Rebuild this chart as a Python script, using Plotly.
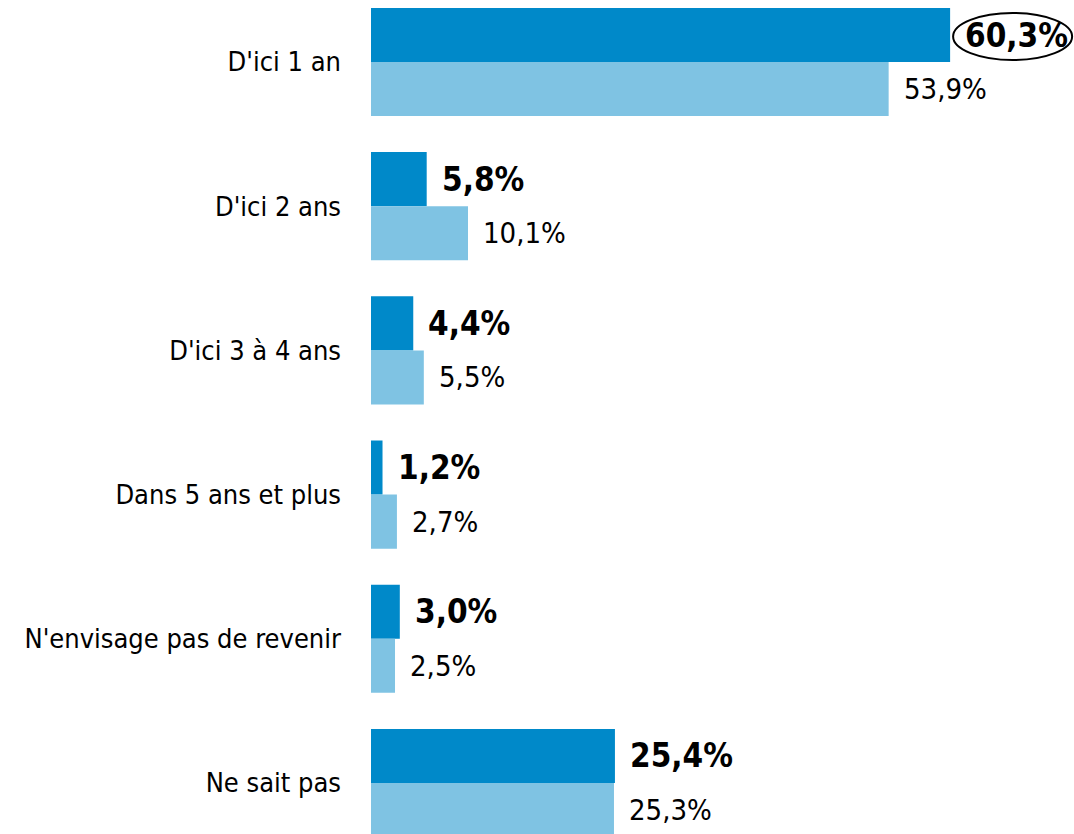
import plotly.graph_objects as go

# categories, top to bottom
categories = ["D'ici 1 an", "D'ici 2 ans", "D'ici 3 à 4 ans", "Dans 5 ans et plus",
              "N'envisage pas de revenir", "Ne sait pas"]
serie_fonce = [60.3, 5.8, 4.4, 1.2, 3.0, 25.4]
serie_clair = [53.9, 10.1, 5.5, 2.7, 2.5, 25.3]
labels_fonce = ["60,3%", "5,8%", "4,4%", "1,2%", "3,0%", "25,4%"]
labels_clair = ["53,9%", "10,1%", "5,5%", "2,7%", "2,5%", "25,3%"]

FONT = "Liberation Sans Narrow, DejaVu Sans Condensed, Roboto, sans-serif"
c_fonce = "#0089C9"
c_clair = "#7FC3E3"

fig = go.Figure()
fig.add_trace(go.Bar(y=categories, x=serie_fonce, orientation="h",
                     marker=dict(color=c_fonce, line=dict(width=0)), name="fonce"))
fig.add_trace(go.Bar(y=categories, x=serie_clair, orientation="h",
                     marker=dict(color=c_clair, line=dict(width=0)), name="clair"))

# étiquettes de valeurs
for cat, v, t in zip(categories, serie_fonce, labels_fonce):
    fig.add_annotation(x=v, y=cat, text="<b>" + t + "</b>", showarrow=False,
                       xanchor="left", yanchor="middle", xshift=13, yshift=27,
                       font=dict(family=FONT, size=33, color="black"))
for cat, v, t in zip(categories, serie_clair, labels_clair):
    fig.add_annotation(x=v, y=cat, text=t, showarrow=False,
                       xanchor="left", yanchor="middle", xshift=13, yshift=-27,
                       font=dict(family=FONT, size=29, color="black"))

# ellipse autour du 60,3%
fig.add_shape(type="circle", xref="x", yref="y", xsizemode="pixel", ysizemode="pixel",
              xanchor=serie_fonce[0], yanchor=0, x0=3, x1=122, y0=2, y1=49,
              line=dict(color="black", width=2))

fig.update_layout(
    width=1074, height=834,
    margin=dict(l=371, r=0, t=0, b=0),
    plot_bgcolor="white", paper_bgcolor="white",
    barmode="group", bargap=0.25, bargroupgap=0,
    showlegend=False,
    xaxis=dict(range=[0, 73.2], visible=False),
    yaxis=dict(categoryorder="array", categoryarray=categories,
               range=[5.354, -0.43], showgrid=False, zeroline=False, showline=False,
               ticks="", ticklabelstandoff=29,
               tickfont=dict(family=FONT, size=27, color="black")),
)

fig.write_html("out.html", config={"displayModeBar": False},
               post_script="document.body.style.margin='0';")
